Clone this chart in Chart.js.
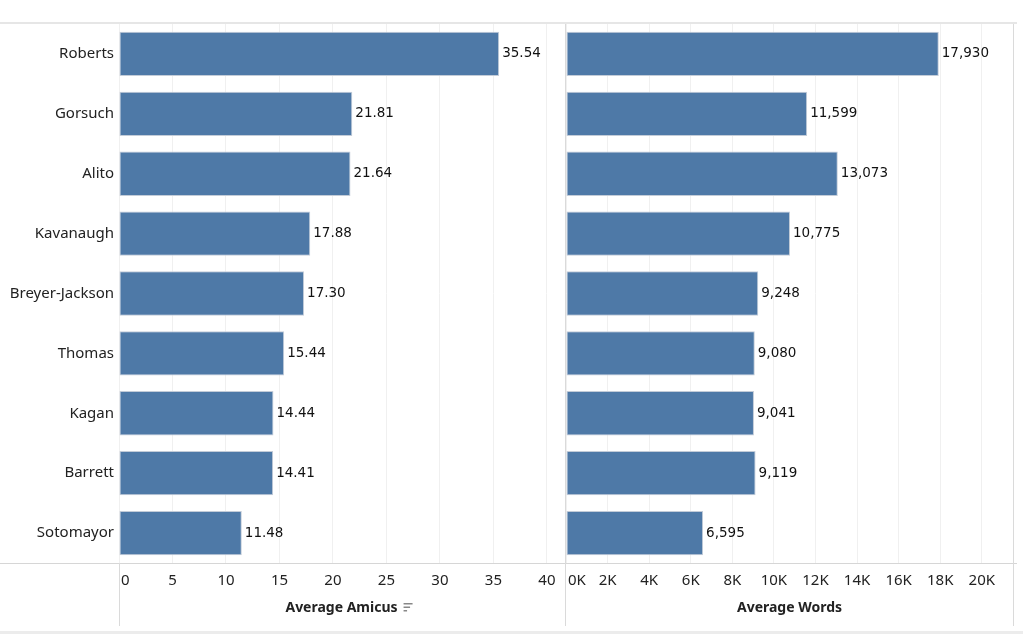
<!DOCTYPE html>
<html>
<head>
<meta charset="utf-8">
<script src="https://cdn.jsdelivr.net/npm/chart.js@4.4.1/dist/chart.umd.min.js"></script>
<style>
  body { margin: 0; background: #fff; width: 1023px; height: 637px; overflow: hidden; position: relative; }
  .wrap { position: absolute; }
  .line { position: absolute; background: #e0e0e0; }
</style>
</head>
<body>
<div class="line" style="left:0;top:22px;width:1017px;height:2px;background:#e6e6e6"></div>
<div class="line" style="left:0;top:563px;width:1017px;height:1px;background:#d6d6d6"></div>
<div class="line" style="left:119px;top:24px;width:1px;height:602px;background:#dadada"></div>
<div class="line" style="left:565px;top:24px;width:1px;height:602px;background:#dadada"></div>
<div class="line" style="left:1013px;top:24px;width:1px;height:602px;background:#dadada"></div>
<div class="line" style="left:0;top:631px;width:1023px;height:3px;background:#ececec"></div>

<div class="wrap" style="left:0;top:24px;width:564px;height:609px"><canvas id="chartAmicus"></canvas></div>
<div class="wrap" style="left:564px;top:24px;width:459px;height:609px"><canvas id="chartWords"></canvas></div>

<script>
let justices = ["Roberts", "Gorsuch", "Alito", "Kavanaugh", "Breyer-Jackson", "Thomas", "Kagan", "Barrett", "Sotomayor"];
let avgAmicus = [35.54, 21.81, 21.64, 17.88, 17.30, 15.44, 14.44, 14.41, 11.48];
let avgWords = [17930, 11599, 13073, 10775, 9248, 9080, 9041, 9119, 6595];
let amicusTicks = [0, 5, 10, 15, 20, 25, 30, 35, 40];
let wordsTicks = [0, 2000, 4000, 6000, 8000, 10000, 12000, 14000, 16000, 18000, 20000];

let barColor = "#4e79a7";
let nameFont = { family: "Noto Sans", size: 15 };
let tickFont = { family: "Noto Sans", size: 15 };
let titleFont = { family: "Noto Sans", size: 14, weight: "bold" };

// value after each bar, left-aligned first tick label, sort icon on the amicus title
let valueLabels = {
  id: "valueLabels",
  afterLayout(chart) {
    let xs = chart.scales.x;
    let items = xs.getLabelItems(chart.chartArea);
    if (items.length) {
      items[0].options.textAlign = "left";
      items[0].options.translation[0] += 2;
    }
  },
  afterDatasetsDraw(chart, args, opts) {
    let ctx = chart.ctx;
    let meta = chart.getDatasetMeta(0);
    ctx.save();
    ctx.font = "13.5px 'DejaVu Sans'";
    ctx.fillStyle = "#111";
    ctx.textBaseline = "middle";
    ctx.textAlign = "left";
    meta.data.forEach(function (bar, i) {
      ctx.fillText(opts.format(chart.data.datasets[0].data[i]), bar.x + 3, bar.y);
    });
    ctx.restore();
  },
  afterDraw(chart, args, opts) {
    if (!opts.sortIcon) return;
    let ctx = chart.ctx;
    let xs = chart.scales.x;
    ctx.save();
    ctx.font = "bold 14px 'Noto Sans'";
    let w = ctx.measureText(xs.options.title.text).width;
    let cx = (xs.left + xs.right) / 2;
    let x0 = cx + w / 2 + 6;
    let y0 = xs.bottom - 30;
    ctx.fillStyle = "#888";
    ctx.fillRect(x0, y0, 9, 1.5);
    ctx.fillRect(x0, y0 + 3.5, 6.5, 1.5);
    ctx.fillRect(x0, y0 + 7, 3.5, 1.5);
    ctx.restore();
  },
};

function makeChart(canvasId, values, maxVal, tickValues, tickFmt, valFmt, title, showNames, padLeft, padRight, sortIcon) {
  let ctx = document.getElementById(canvasId).getContext("2d");
  return new Chart(ctx, {
    type: "bar",
    data: {
      labels: justices,
      datasets: [
        {
          data: values,
          backgroundColor: barColor,
          borderColor: "#c3ccd8",
          borderWidth: 1,
          borderSkipped: false,
          barPercentage: 0.74,
          categoryPercentage: 1,
        },
      ],
    },
    options: {
      indexAxis: "y",
      responsive: true,
      maintainAspectRatio: false,
      animation: false,
      layout: { padding: { left: padLeft, right: padRight, top: 0, bottom: 0 } },
      plugins: {
        legend: { display: false },
        tooltip: { enabled: false },
        valueLabels: { format: valFmt, sortIcon: sortIcon },
      },
      scales: {
        x: {
          min: 0,
          max: maxVal,
          border: { display: false },
          grid: { color: "#f0f0f0", drawTicks: false },
          ticks: {
            padding: 9,
            maxRotation: 0,
            autoSkip: false,
            color: "#222",
            font: tickFont,
            callback: tickFmt,
          },
          title: {
            display: true,
            text: title,
            color: "#222",
            font: titleFont,
            padding: { top: 4, bottom: 17 },
          },
          afterBuildTicks(scale) {
            scale.ticks = tickValues.map(function (v) { return { value: v }; });
          },
          afterFit(scale) {
            scale.height = 70;
            scale.paddingLeft = 0;
            scale.paddingRight = 0;
          },
        },
        y: {
          display: showNames,
          border: { display: false },
          grid: { display: false, drawTicks: false },
          ticks: { color: "#222", font: nameFont, padding: 5 },
          afterFit(scale) {
            if (showNames) scale.width = 119;
            scale.paddingTop = 0;
            scale.paddingBottom = 0;
          },
        },
      },
    },
    plugins: [valueLabels],
  });
}

let amicusChart = makeChart(
  "chartAmicus", avgAmicus, 41.6, amicusTicks,
  function (v) { return v; },
  function (v) { return v.toFixed(2); },
  "Average Amicus", true, 0, 0, true
);

let wordsChart = makeChart(
  "chartWords", avgWords, 21500, wordsTicks,
  function (v) { return v / 1000 + "K"; },
  function (v) { return v.toLocaleString("en-US"); },
  "Average Words", false, 2, 10, false
);
</script>
</body>
</html>
